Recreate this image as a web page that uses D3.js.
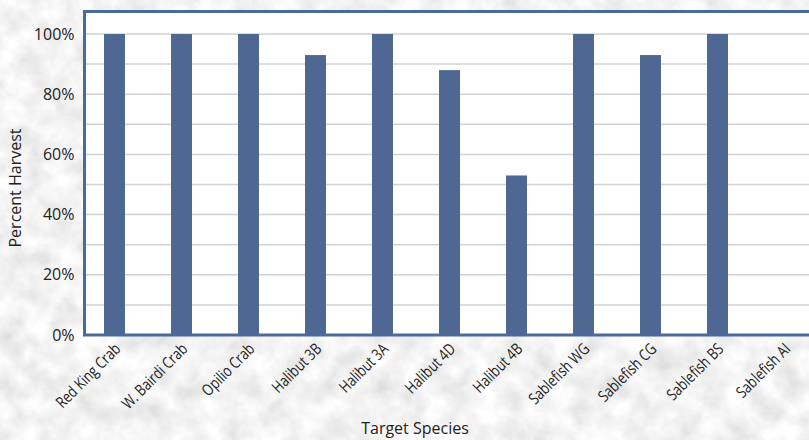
<!DOCTYPE html>
<html>
<head>
<meta charset="utf-8">
<script src="https://cdn.jsdelivr.net/npm/d3@7"></script>
<style>
  body { margin: 0; }
  svg { display: block; }
</style>
</head>
<body>
<svg id="chart"></svg>
<script>
var species = ["Red King Crab", "W. Bairdi Crab", "Opilio Crab", "Halibut 3B", "Halibut 3A",
               "Halibut 4D", "Halibut 4B", "Sablefish WG", "Sablefish CG", "Sablefish BS", "Sablefish AI"];
var harvest = [100, 100, 100, 93, 100, 88, 53, 100, 93, 100, 0];
var yTicks = [0, 20, 40, 60, 80, 100];
var yGrid = [10, 20, 30, 40, 50, 60, 70, 80, 90, 100];

var width = 809, height = 440;
var barColor = "#4e6793", frameColor = "#4b6a9b";

var svg = d3.select("#chart")
  .attr("width", width)
  .attr("height", height);

// stone-ish background
var defs = svg.append("defs");
var f = defs.append("filter").attr("id", "stone")
  .attr("x", 0).attr("y", 0).attr("width", "100%").attr("height", "100%");
f.append("feTurbulence")
  .attr("type", "fractalNoise")
  .attr("baseFrequency", "0.04")
  .attr("numOctaves", 4)
  .attr("seed", 7);
f.append("feColorMatrix")
  .attr("type", "matrix")
  .attr("values", "0.42 0 0 0 0.69  0.42 0 0 0 0.69  0.42 0 0 0 0.69  0 0 0 0 1");
svg.append("rect").attr("width", width).attr("height", height)
  .attr("fill", "#e6e6e6").attr("filter", "url(#stone)");

var frame = {left: 84.5, top: 11.5, bottom: 335, right: 830};

var x = d3.scaleBand()
  .domain(species)
  .range([81, 818])
  .paddingInner(0.687)
  .paddingOuter(0.3435);

var y = d3.scaleLinear().domain([0, 100]).range([335, 34]);

// plot area
svg.append("rect")
  .attr("x", frame.left).attr("y", frame.top)
  .attr("width", frame.right - frame.left).attr("height", frame.bottom - frame.top)
  .attr("fill", "#fff");

// gridlines
svg.append("g")
  .selectAll("line")
  .data(yGrid)
  .join("line")
  .attr("x1", frame.left).attr("x2", width)
  .attr("y1", function(d) { return y(d); })
  .attr("y2", function(d) { return y(d); })
  .attr("stroke", "#d2d2d2")
  .attr("stroke-width", 1.5);

// bars
svg.append("g")
  .selectAll("rect")
  .data(species)
  .join("rect")
  .attr("x", function(d) { return x(d); })
  .attr("width", x.bandwidth())
  .attr("y", function(d, i) { return y(harvest[i]); })
  .attr("height", function(d, i) { return y(0) - y(harvest[i]); })
  .attr("fill", barColor);

// frame
svg.append("rect")
  .attr("x", frame.left).attr("y", frame.top)
  .attr("width", frame.right - frame.left).attr("height", frame.bottom - frame.top)
  .attr("fill", "none")
  .attr("stroke", frameColor)
  .attr("stroke-width", 3);

// y axis labels
var yAxis = svg.append("g")
  .attr("transform", "translate(" + frame.left + ",0)")
  .call(d3.axisLeft(y).tickValues(yTicks).tickSize(0).tickPadding(10)
    .tickFormat(function(d) { return d + "%"; }));
yAxis.select(".domain").remove();
yAxis.selectAll("text")
  .attr("font-family", "'Open Sans', sans-serif")
  .attr("font-size", 16)
  .attr("fill", "#222");

// x axis labels, squeezed to look condensed
var xAxis = svg.append("g")
  .attr("transform", "translate(0," + frame.bottom + ")")
  .call(d3.axisBottom(x).tickSize(0).tickPadding(0));
xAxis.select(".domain").remove();
xAxis.selectAll("text")
  .attr("font-family", "'Open Sans', sans-serif")
  .attr("font-size", 16)
  .attr("fill", "#222")
  .attr("text-anchor", "end")
  .attr("dy", 0)
  .attr("transform", "translate(7,15) rotate(-45) scale(0.8,1)");

// axis titles
svg.append("text")
  .attr("x", 415).attr("y", 434)
  .attr("text-anchor", "middle")
  .attr("font-family", "'Open Sans', sans-serif")
  .attr("font-size", 16)
  .attr("fill", "#222")
  .text("Target Species");

svg.append("text")
  .attr("transform", "translate(21,188) rotate(-90)")
  .attr("text-anchor", "middle")
  .attr("font-family", "'Open Sans', sans-serif")
  .attr("font-size", 16)
  .attr("fill", "#222")
  .text("Percent Harvest");
</script>
</body>
</html>
